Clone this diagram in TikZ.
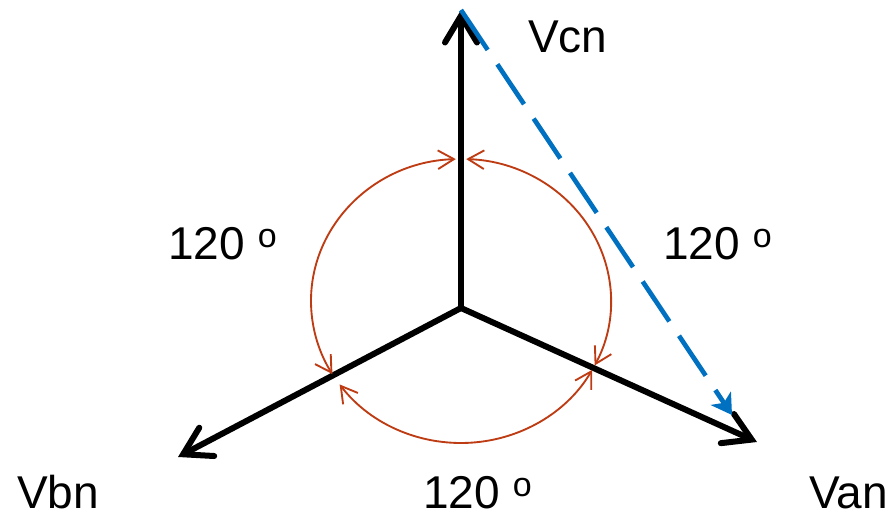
\documentclass[tikz,border=0pt]{standalone}
\usepackage{fontspec}
\setmainfont{Liberation Sans}
\usetikzlibrary{arrows.meta}
\definecolor{arcred}{RGB}{190,60,20}
\definecolor{dashblue}{RGB}{0,112,192}
\newcommand{\degsign}{\raisebox{9.5pt}{\fontsize{25.5}{26}\selectfont o}}

\begin{document}
\begin{tikzpicture}[
  x=0.75pt,y=0.75pt,
  phasor/.style={line width=4.5pt,line cap=round,-{Straight Barb[length=20pt,width=24pt,line cap=round,line join=miter]}},
  anglearc/.style={arcred,line width=1.4pt,{Straight Barb[length=12pt,width=14pt]}-{Straight Barb[length=12pt,width=14pt]}},
  dashline/.style={dashblue,line width=3.5pt,dash pattern=on 36pt off 13pt,-{Stealth[length=15pt,width=18pt,inset=4pt]}},
  lbl/.style={anchor=base west,inner sep=0pt,font=\fontsize{34.5}{40}\selectfont}
]
  \useasboundingbox (0,0) rectangle (894,518);

  % Phasor points
  \coordinate (o) at (461,210);
  \coordinate (c) at (461,508);
  \coordinate (b) at (178,61);
  \coordinate (a) at (757,76);
  \coordinate (d) at (732,103);
  \coordinate (ec) at (461,217);

  % Phasors
  \draw[phasor] (o) -- (c);
  \draw[phasor] (o) -- (b);
  \draw[phasor] (o) -- (a);

  % Dashed phasor
  \draw[dashline] (c) -- (d);

  % Angle arcs
  \draw[anglearc] ([shift={(92:150 and 142)}]ec) arc[start angle=92,end angle=211,x radius=150,y radius=142];
  \draw[anglearc] ([shift={(88:150 and 142)}]ec) arc[start angle=88,end angle=-27,x radius=150,y radius=142];
  \draw[anglearc] ([shift={(216:150 and 142)}]ec) arc[start angle=216,end angle=331,x radius=150,y radius=142];

  % Labels
  \node[lbl] (vcn) at (528,465) {Vcn};
  \node[lbl] (vbn) at (17,9) {Vbn};
  \node[lbl] (van) at (809,9) {Van};
  \node[lbl] (angbc) at (168,258) {120 \degsign};
  \node[lbl] (angca) at (663,258) {120 \degsign};
  \node[lbl] (angab) at (423,9) {120 \degsign};
\end{tikzpicture}
\end{document}
